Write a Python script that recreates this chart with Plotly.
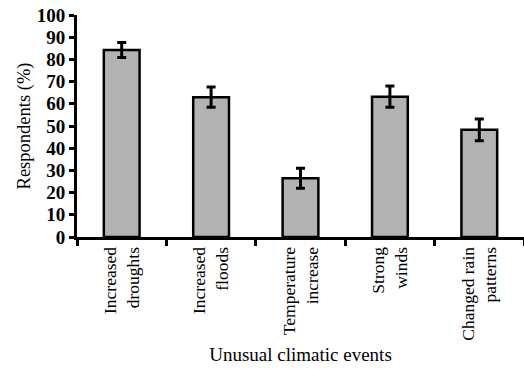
import plotly.graph_objects as go

categories = ["Increased<br>droughts", "Increased<br>floods", "Temperature<br>increase",
              "Strong<br>winds", "Changed rain<br>patterns"]
values = [84.2, 63.0, 26.5, 63.2, 48.3]
errors = [3.4, 4.6, 4.5, 4.8, 4.9]
y_ticks = list(range(0, 101, 10))

FONT = "Liberation Serif, Times New Roman, serif"

fig = go.Figure()
fig.add_trace(go.Bar(
    x=categories, y=values,
    marker=dict(color="#b3b3b3", line=dict(color="black", width=2.5)),
    error_y=dict(type="data", array=errors, visible=True, color="black",
                 thickness=3, width=4.5),
    width=0.4,
))

fig.update_layout(
    width=524, height=369,
    margin=dict(l=77, r=0, t=15, b=132),
    paper_bgcolor="white", plot_bgcolor="white",
    showlegend=False,
    font=dict(family=FONT, color="black"),
)
fig.update_xaxes(
    showline=True, linewidth=3, linecolor="black",
    ticks="outside", tickson="boundaries", ticklen=6, tickwidth=2.5, tickcolor="black",
    tickangle=-90, tickfont=dict(family=FONT, size=17.5, color="black"),
    title=dict(text="Unusual climatic events", font=dict(family=FONT, size=19, color="black"),
               standoff=8),
    range=[-0.5, 4.5], automargin=False,
)
fig.update_yaxes(
    range=[0, 100], tickvals=y_ticks,
    showline=True, linewidth=3, linecolor="black", showgrid=False, zeroline=False,
    ticks="outside", ticklen=5, tickwidth=2.5, tickcolor="black",
    tickfont=dict(family=FONT, size=19, color="black", weight="bold"),
    title=dict(text="Respondents (%)", font=dict(family=FONT, size=18.5, color="black"),
               standoff=2),
    automargin=False,
)

fig.write_html("out.html", config={"displayModeBar": False},
               post_script="document.body.style.margin='0';")
